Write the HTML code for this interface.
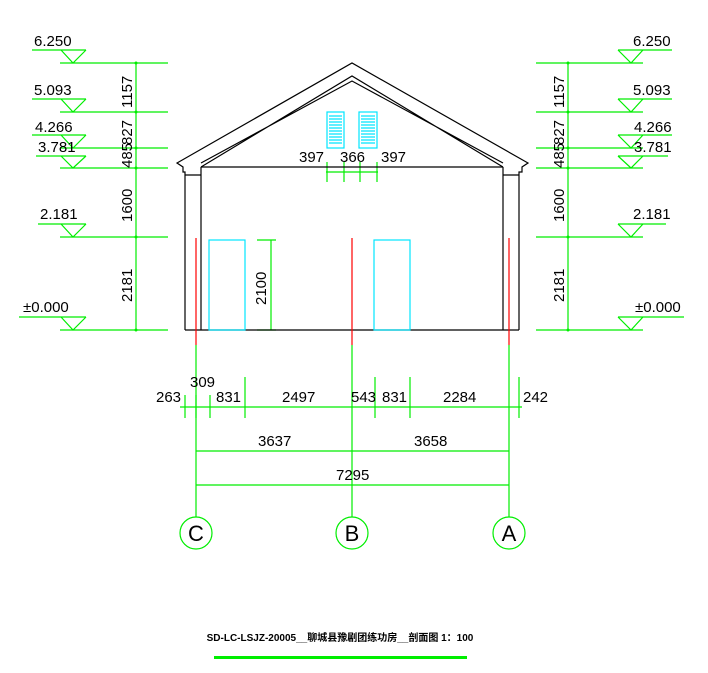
<!DOCTYPE html>
<html><head><meta charset="utf-8"><style>
html,body{margin:0;padding:0;background:#fff;width:708px;height:673px;overflow:hidden}
svg{display:block}
text{font-family:"Liberation Sans","Noto Sans CJK SC",sans-serif}
</style></head><body>
<svg width="708" height="673" viewBox="0 0 708 673" xmlns="http://www.w3.org/2000/svg">
<g stroke="#00ee00" stroke-width="1.2" fill="none">
<path d="M32 50H86 M61 50L73 63L86 50 M60 63H168"/>
<path d="M32 99H86 M61 99L73 112L86 99 M60 112H168"/>
<path d="M32 135H86 M61 135L73 148L86 135 M60 148H168"/>
<path d="M36 156H86 M61 156L73 168L86 156 M60 168H168"/>
<path d="M38 224H86 M61 224L73 237L86 224 M60 237H168"/>
<path d="M19 317H86 M61 317L73 330L86 317 M60 330H168"/>
<path d="M136 63V331"/>
<path d="M618 50H672 M618 50L631 63L643 50 M536 63H643"/>
<path d="M618 99H672 M618 99L631 112L643 99 M536 112H643"/>
<path d="M618 135H672 M618 135L631 148L643 135"/>
<path d="M536 148H643"/>
<path d="M618 156H668 M618 156L631 168L643 156 M536 168H643"/>
<path d="M618 224H666 M618 224L631 237L643 224 M536 237H643"/>
<path d="M618 317H684 M618 317L631 330L643 317 M536 330H643"/>
<path d="M568 63V331"/>
<path d="M326 172H378 M327 162V182 M344 162V182 M360 162V182 M377 162V182"/>
<path d="M271 240V330 M257 240H276 M257 330H276"/>
<path d="M196 345V517 M352 345V517 M509 345V517"/>
<path d="M180 407H522 M185 395V418 M210 395V418 M245 377V418 M375 377V418 M410 377V418 M519 377V418"/>
<path d="M196 395V418"/>
<path d="M196 451H509 M196 485H509"/>
<circle cx="196" cy="533" r="16"/>
<circle cx="352" cy="533" r="16"/>
<circle cx="509" cy="533" r="16"/>
</g>
<g fill="#00ee00">
<circle cx="136" cy="63" r="1.5"/><circle cx="136" cy="112" r="1.5"/><circle cx="136" cy="148" r="1.5"/><circle cx="136" cy="168" r="1.5"/><circle cx="136" cy="237" r="1.5"/><circle cx="136" cy="330" r="1.5"/>
<circle cx="568" cy="63" r="1.5"/><circle cx="568" cy="112" r="1.5"/><circle cx="568" cy="148" r="1.5"/><circle cx="568" cy="168" r="1.5"/><circle cx="568" cy="237" r="1.5"/><circle cx="568" cy="330" r="1.5"/>
<rect x="214" y="656" width="253" height="3"/>
</g>
<g stroke="#000" stroke-width="1.2" fill="none">
<path d="M185 330V175 M201 330V167 M185 175H201 M185 175V172H183V167L177 163L352 63L528 163L522 167V172H519V175 M519 330V175 M503 330V167 M503 175H519 M185 330H519 M201 167H503"/>
<path d="M201 167L352 76L503 167 M201 163L352 81L503 163"/>
</g>
<g stroke="#f00" stroke-width="1.2"><path d="M196 238V345 M352 238V345 M509 238V345"/></g>
<g stroke="#00e5ff" stroke-width="1.2" fill="none">
<rect x="209" y="240" width="36" height="90"/>
<rect x="374" y="240" width="36" height="90"/>
<rect x="327" y="112" width="17" height="36"/>
<rect x="359" y="112" width="18" height="36"/>
<path d="M329 116H342M329 119H342M329 122H342M329 125H342M329 128H342M329 131H342M329 134H342M329 137H342M329 140H342M329 143H342M361 116H375M361 119H375M361 122H375M361 125H375M361 128H375M361 131H375M361 134H375M361 137H375M361 140H375M361 143H375"/>
</g>
<g fill="#000" font-size="15">
<text x="34" y="46">6.250</text><text x="34" y="95">5.093</text><text x="35" y="132">4.266</text><text x="38" y="152">3.781</text><text x="40" y="219">2.181</text><text x="23" y="312">±0.000</text>
<text x="633" y="46">6.250</text><text x="633" y="95">5.093</text><text x="634" y="132">4.266</text><text x="634" y="152">3.781</text><text x="633" y="219">2.181</text><text x="635" y="312">±0.000</text>
<g transform="rotate(-90)">
<text x="-108" y="132">1157</text><text x="-145" y="132">827</text><text x="-168" y="132">485</text><text x="-222" y="132">1600</text><text x="-302" y="132">2181</text>
<text x="-108" y="564">1157</text><text x="-145" y="564">827</text><text x="-168" y="564">485</text><text x="-222" y="564">1600</text><text x="-302" y="564">2181</text>
<text x="-305" y="266">2100</text>
</g>
<text x="299" y="162">397</text><text x="340" y="162">366</text><text x="381" y="162">397</text>
<text x="156" y="402">263</text><text x="190" y="387">309</text><text x="216" y="402">831</text><text x="282" y="402">2497</text><text x="351" y="402">543</text><text x="382" y="402">831</text><text x="443" y="402">2284</text><text x="523" y="402">242</text>
<text x="258" y="446">3637</text><text x="414" y="446">3658</text><text x="336" y="480">7295</text>
</g>
<g fill="#000" font-family="Liberation Serif,serif" font-size="22" text-anchor="middle">
<text x="196" y="541">C</text><text x="352" y="541">B</text><text x="509" y="541">A</text>
</g>
<text x="340" y="641" text-anchor="middle" font-size="10" font-weight="bold" fill="#000">SD-LC-LSJZ-20005__聊城县豫剧团练功房__剖面图 1：100</text>
</svg>
</body></html>
